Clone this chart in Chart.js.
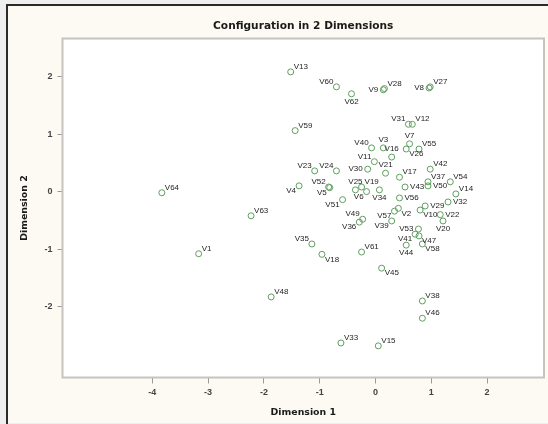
<!DOCTYPE html>
<html>
<head>
<meta charset="utf-8">
<script src="https://cdn.jsdelivr.net/npm/chart.js@4.4.0/dist/chart.umd.min.js"></script>
<style>
  html, body { margin: 0; padding: 0; background: #efefef; }
  #wrap { width: 548px; height: 424px; }
</style>
</head>
<body>
<div id="wrap"><canvas id="mds" width="548" height="424"></canvas></div>
<script>
// stimulus names and their coordinates on the two dimensions
let names = ["V1", "V2", "V3", "V4", "V5", "V6", "V7", "V8", "V9", "V10",
  "V11", "V12", "V13", "V14", "V15", "V16", "V17", "V18", "V19", "V20",
  "V21", "V22", "V23", "V24", "V25", "V26", "V27", "V28", "V29", "V30",
  "V31", "V32", "V33", "V34", "V35", "V36", "V37", "V38", "V39", "V40",
  "V41", "V42", "V43", "V44", "V45", "V46", "V47", "V48", "V49", "V50",
  "V51", "V52", "V53", "V54", "V55", "V56", "V57", "V58", "V59", "V60",
  "V61", "V62", "V63", "V64"];
let dim1 = [-3.17, 0.41, 0.14, -1.37, -0.82, -0.16, 0.61, 0.96, 0.14, 0.80,
  -0.02, 0.66, -1.52, 1.44, 0.05, 0.29, 0.43, -0.96, -0.25, 1.21,
  0.18, 1.16, -1.09, -0.70, -0.36, 0.55, 0.98, 0.16, 0.89, -0.14,
  0.59, 1.30, -0.62, 0.07, -1.14, -0.29, 0.94, 0.84, 0.29, -0.07,
  0.71, 0.98, 0.53, 0.55, 0.11, 0.84, 0.78, -1.87, -0.23, 0.94,
  -0.59, -0.84, 0.77, 1.34, 0.78, 0.43, 0.34, 0.84, -1.44, -0.70,
  -0.25, -0.43, -2.23, -3.83];
let dim2 = [-1.08, -0.29, 0.76, 0.10, 0.07, 0.00, 0.83, 1.80, 1.77, -0.32,
  0.52, 1.17, 2.08, -0.04, -2.68, 0.60, 0.25, -1.09, 0.08, -0.51,
  0.32, -0.40, 0.36, 0.36, 0.03, 0.74, 1.82, 1.79, -0.25, 0.39,
  1.17, -0.18, -2.63, 0.03, -0.91, -0.53, 0.17, -1.90, -0.51, 0.76,
  -0.74, 0.39, 0.08, -0.93, -1.33, -2.20, -0.77, -1.83, -0.48, 0.10,
  -0.14, 0.08, -0.65, 0.17, 0.74, -0.11, -0.34, -0.91, 1.06, 1.82,
  -1.05, 1.70, -0.42, -0.02];
let xTicks = [-4, -3, -2, -1, 0, 1, 2];
let yTicks = [-2, -1, 0, 1, 2];

// where each name sits around its circle
let labelPos = ["ur", "dr", "u", "dl", "dl", "dl", "u", "l", "l", "dr",
  "ul", "ur", "ur", "ur", "ur", "u", "ur", "dr", "ur", "d",
  "u", "r", "ul", "ul", "u", "dr", "ur", "ur", "r", "l",
  "ul", "r", "ur", "d", "ul", "dl", "ur", "ur", "dl", "ul",
  "dl", "ur", "r", "d", "dr", "ur", "dr", "ur", "ul", "r",
  "dl", "ul", "l", "ur", "ur", "r", "dl", "dr", "ur", "ul",
  "ur", "d", "ur", "ur"];

let points = names.map((n, i) => ({ x: dim1[i], y: dim2[i] }));

let panel = {
  id: "panel",
  beforeDraw: (chart) => {
    let c = chart.ctx;
    let a = chart.chartArea;
    c.save();
    c.fillStyle = "#efefef";
    c.fillRect(0, 0, chart.width, chart.height);
    c.fillStyle = "#fcfaf2";
    c.fillRect(8, 6, chart.width - 8, chart.height - 7);
    c.strokeStyle = "#2a2a2a";
    c.lineWidth = 2;
    c.beginPath();
    c.moveTo(7, chart.height);
    c.lineTo(7, 5);
    c.lineTo(chart.width, 5);
    c.stroke();
    c.fillStyle = "#ffffff";
    c.fillRect(a.left, a.top, a.right - a.left, a.bottom - a.top);
    c.restore();
  },
  afterDraw: (chart) => {
    let c = chart.ctx;
    let a = chart.chartArea;
    c.save();
    c.strokeStyle = "#c4c4c0";
    c.lineWidth = 2;
    c.strokeRect(a.left, a.top, a.right - a.left, a.bottom - a.top);
    c.restore();
  },
};

let pointNames = {
  id: "pointNames",
  afterDatasetsDraw: (chart) => {
    let c = chart.ctx;
    let meta = chart.getDatasetMeta(0);
    c.save();
    c.font = "8px 'Liberation Sans', Arial, sans-serif";
    c.fillStyle = "#1e1e1e";
    meta.data.forEach((el, i) => {
      let p = labelPos[i];
      let x = el.x;
      let y = el.y;
      c.textAlign = p.includes("r") ? "left" : p.includes("l") ? "right" : "center";
      c.textBaseline = p.includes("u") ? "bottom" : p.includes("d") ? "top" : "middle";
      if (p.includes("r")) x += p === "r" ? 5 : 3;
      if (p.includes("l")) x -= p === "l" ? 5 : 3;
      if (p.includes("u")) y -= p === "u" ? 4 : 1;
      if (p.includes("d")) y += p === "d" ? 4 : 1;
      c.fillText(names[i], x, y);
    });
    c.restore();
  },
};

let ctx = document.getElementById("mds").getContext("2d");
let mds = new Chart(ctx, {
  type: "scatter",
  data: {
    labels: names,
    datasets: [
      {
        data: points,
        pointStyle: "circle",
        pointRadius: 3,
        pointHoverRadius: 3,
        borderWidth: 1,
        borderColor: "#5f9f5f",
        backgroundColor: "rgba(0,0,0,0)",
      },
    ],
  },
  plugins: [panel, pointNames],
  options: {
    responsive: false,
    animation: false,
    events: [],
    layout: {
      padding: { left: 0, top: 0, right: 1.5, bottom: 0 },
    },
    plugins: {
      legend: { display: false },
      tooltip: { enabled: false },
      title: {
        display: true,
        text: "Configuration in 2 Dimensions",
        fullSize: false,
        color: "#1a1a1a",
        font: { family: "'DejaVu Sans', sans-serif", size: 10.6, weight: "bold" },
        padding: { top: 20.3, bottom: 5.5 },
      },
    },
    scales: {
      x: {
        type: "linear",
        min: -5.61,
        max: 3.02,
        afterBuildTicks: (scale) => {
          scale.ticks = xTicks.map((v) => ({ value: v }));
        },
        afterFit: (scale) => {
          scale.height = 46.5;
        },
        border: { display: false },
        grid: { drawOnChartArea: false, drawTicks: true, tickLength: 6, color: "#9a9a9a" },
        ticks: {
          padding: 4,
          color: "#444",
          font: { family: "'Liberation Sans', Arial, sans-serif", size: 9, weight: "bold" },
        },
        title: {
          display: true,
          text: "Dimension 1",
          color: "#1a1a1a",
          font: { family: "'DejaVu Sans', sans-serif", size: 9.4, weight: "bold" },
          padding: { top: 0, bottom: 6.1 },
        },
      },
      y: {
        type: "linear",
        min: -3.23,
        max: 2.66,
        afterBuildTicks: (scale) => {
          scale.ticks = yTicks.map((v) => ({ value: v }));
        },
        afterFit: (scale) => {
          scale.width = 62.5;
        },
        border: { display: false },
        grid: { drawOnChartArea: false, drawTicks: true, tickLength: 5, color: "#9a9a9a" },
        ticks: {
          padding: 5,
          color: "#444",
          font: { family: "'Liberation Sans', Arial, sans-serif", size: 9, weight: "bold" },
        },
        title: {
          display: true,
          text: "Dimension 2",
          color: "#1a1a1a",
          font: { family: "'DejaVu Sans', sans-serif", size: 9.4, weight: "bold" },
          padding: { top: 19.4, bottom: 0 },
        },
      },
    },
  },
});
</script>
</body>
</html>
